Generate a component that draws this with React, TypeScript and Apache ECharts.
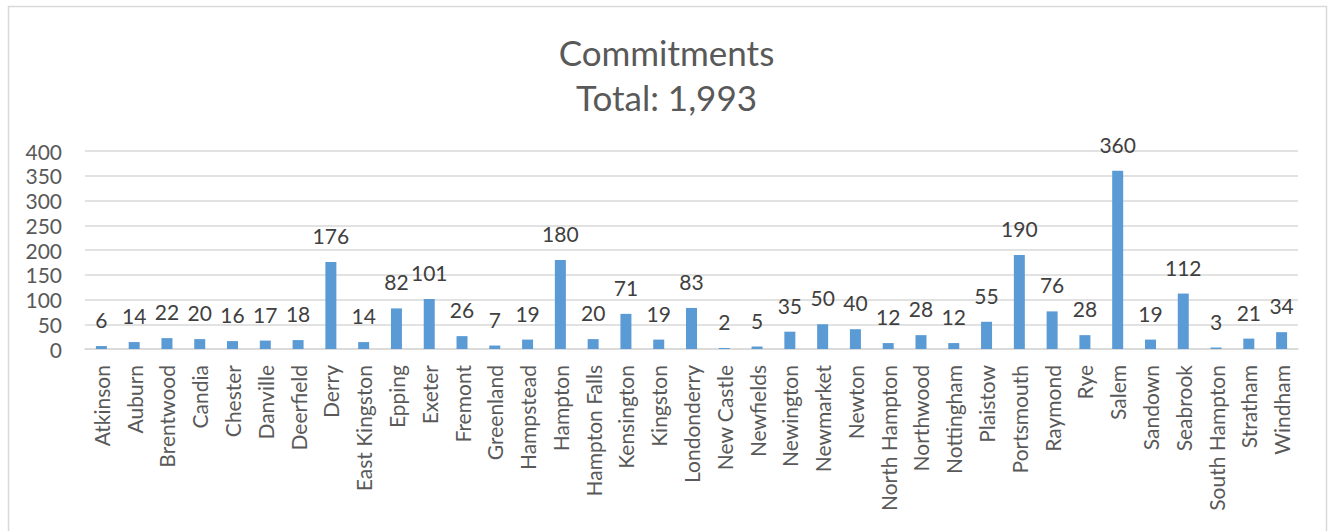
import React, { useEffect, useRef } from "react";
import * as echarts from "echarts";

const towns = [
  "Atkinson", "Auburn", "Brentwood", "Candia", "Chester", "Danville", "Deerfield", "Derry",
  "East Kingston", "Epping", "Exeter", "Fremont", "Greenland", "Hampstead", "Hampton",
  "Hampton Falls", "Kensington", "Kingston", "Londonderry", "New Castle", "Newfields",
  "Newington", "Newmarket", "Newton", "North Hampton", "Northwood", "Nottingham", "Plaistow",
  "Portsmouth", "Raymond", "Rye", "Salem", "Sandown", "Seabrook", "South Hampton", "Stratham",
  "Windham",
];

const commitments = [
  6, 14, 22, 20, 16, 17, 18, 176, 14, 82, 101, 26, 7, 19, 180, 20, 71, 19, 83, 2, 5, 35, 50,
  40, 12, 28, 12, 55, 190, 76, 28, 360, 19, 112, 3, 21, 34,
];

const titleLines = ["Commitments", "Total: 1,993"];

const FONT = "Lato, 'Open Sans', sans-serif";

export default function App() {
  const ref = useRef<HTMLDivElement>(null);

  useEffect(() => {
    if (!ref.current) return;
    const chart = echarts.init(ref.current, undefined, { renderer: "svg" });
    chart.setOption({
      animation: false,
      backgroundColor: "#ffffff",
      textStyle: { fontFamily: FONT },
      title: {
        text: titleLines.join("\n"),
        left: "center",
        top: 24,
        textStyle: {
          fontFamily: FONT,
          fontSize: 35,
          fontWeight: "normal",
          color: "#595959",
          lineHeight: 45,
        },
      },
      graphic: [
        {
          type: "rect",
          shape: { x: 8.5, y: 6.5, width: 1318, height: 560 },
          style: { fill: "none", stroke: "#D9D9D9", lineWidth: 1.5 },
          silent: true,
        },
      ],
      grid: { left: 85, right: 35, top: 151, bottom: 182, containLabel: false },
      xAxis: {
        type: "category",
        data: towns,
        axisLine: { show: true, lineStyle: { color: "#D9D9D9", width: 1.5 } },
        axisTick: { show: false },
        axisLabel: {
          interval: 0,
          rotate: 90,
          margin: 16,
          fontSize: 21,
          color: "#595959",
          fontFamily: FONT,
        },
      },
      yAxis: {
        type: "value",
        min: 0,
        max: 400,
        interval: 50,
        axisLine: { show: false },
        axisTick: { show: false },
        splitLine: { lineStyle: { color: "#D9D9D9", width: 1.5 } },
        axisLabel: {
          margin: 23,
          fontSize: 21,
          color: "#595959",
          fontFamily: FONT,
        },
      },
      series: [
        {
          type: "bar",
          data: commitments,
          barWidth: 11,
          itemStyle: { color: "#5B9BD5" },
          label: {
            show: true,
            position: "top",
            distance: 16,
            fontSize: 21,
            color: "#404040",
            fontFamily: FONT,
          },
        },
      ],
    });
    return () => chart.dispose();
  }, []);

  return (
    <div
      ref={ref}
      style={{ position: "fixed", left: 0, top: 0, width: 1333, height: 531 }}
    />
  );
}
